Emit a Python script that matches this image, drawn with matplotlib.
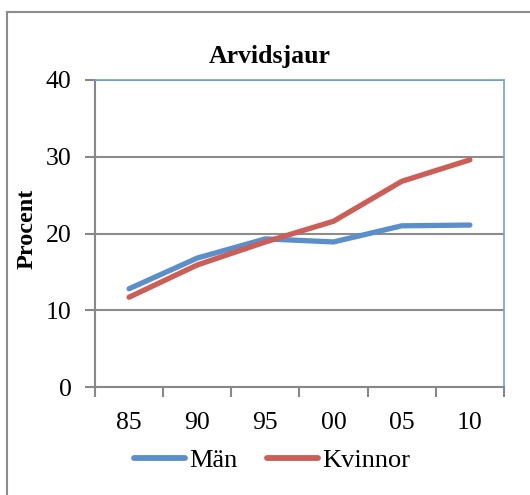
import numpy as np
import matplotlib
matplotlib.use('Agg')
import matplotlib.pyplot as plt
from matplotlib.lines import Line2D

# data
years = ['85', '90', '95', '00', '05', '10']
man = [12.8, 16.8, 19.3, 18.9, 21.0, 21.1]
kvinnor = [11.7, 15.9, 18.9, 21.6, 26.8, 29.6]
yticks = [0, 10, 20, 30, 40]

plt.rcParams['font.family'] = ['Liberation Serif', 'DejaVu Serif']

W, H = 530, 495
fig = plt.figure(figsize=(W / 100, H / 100), dpi=100)

# plot area in pixels: left 95, right 504, top 80, bottom 387
ax = fig.add_axes([95 / W, 1 - 387 / H, (504 - 95) / W, (387 - 80) / H])

x = np.arange(len(years))
ax.plot(x, man, color='#5A8FCA', lw=3.8, solid_capstyle='round', label='Män', zorder=3)
ax.plot(x, kvinnor, color='#CC5E57', lw=3.8, solid_capstyle='round', label='Kvinnor', zorder=3)

ax.set_xlim(-0.5, len(years) - 0.5)
ax.set_ylim(0, 40)
ax.set_yticks(yticks)
ax.set_yticklabels([str(t) for t in yticks], fontsize=18.5)
ax.set_xticks(x)
ax.set_xticklabels(years, fontsize=18.5)
ax.tick_params(axis='x', length=0, pad=18)
ax.set_xticks(np.arange(-0.5, len(years)), minor=True)
ax.tick_params(axis='x', which='minor', length=7, width=1.5, color='#888888')
ax.tick_params(axis='y', length=7, width=1.5, color='#888888', pad=10)

ax.grid(axis='y', color='#8c8c8c', lw=1.5)
ax.set_axisbelow(True)
for s in ['left', 'bottom']:
    ax.spines[s].set_color('#888888')
    ax.spines[s].set_linewidth(1.5)
for s in ['top', 'right']:
    ax.spines[s].set_color('#6FA3D8')
    ax.spines[s].set_linewidth(1.2)

fig.text(270 / W, 1 - 56 / H, 'Arvidsjaur', ha='center', va='center',
         fontsize=18.5, fontweight='bold')
fig.text(27 / W, 1 - 229 / H, 'Procent', ha='center', va='center',
         rotation=90, fontsize=17.5, fontweight='bold')

handles = [Line2D([], [], color='#5A8FCA', lw=4.2, solid_capstyle='round'),
           Line2D([], [], color='#CC5E57', lw=4.2, solid_capstyle='round')]
fig.legend(handles, ['Män', 'Kvinnor'], loc='center', bbox_to_anchor=(272 / W, 1 - 460 / H),
           ncol=2, frameon=False, fontsize=19, handlelength=1.95, handletextpad=0.15,
           columnspacing=1.1)

# outer chart border (only left and top visible in the crop)
fig.add_artist(Line2D([7 / W, 7 / W], [0, 1 - 12 / H], color='#8c8c8c', lw=1.5,
                      transform=fig.transFigure))
fig.add_artist(Line2D([7 / W, 1], [1 - 12 / H, 1 - 12 / H], color='#8c8c8c', lw=1.5,
                      transform=fig.transFigure))

fig.savefig('out.png', dpi=100)
